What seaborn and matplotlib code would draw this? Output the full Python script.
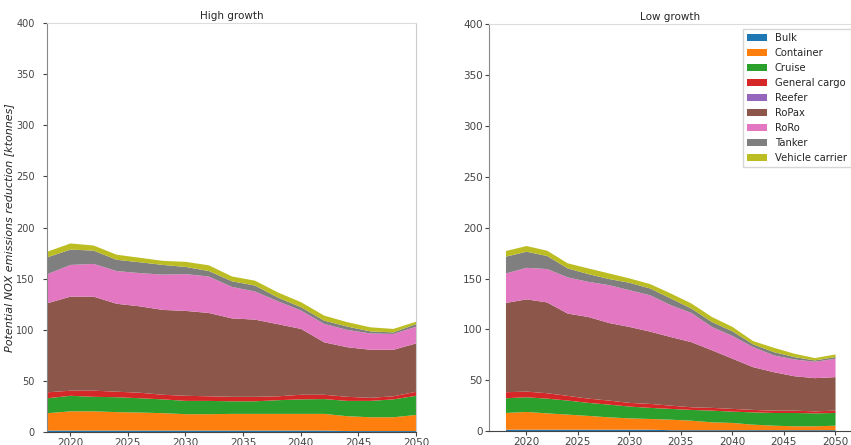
import matplotlib
matplotlib.use("Agg")
import matplotlib.pyplot as plt
import seaborn as sns
import pandas as pd

# years on the x axis (values read every 2 years)
years = list(range(2018, 2051, 2))
ship_types = ['Bulk', 'Container', 'Cruise', 'General cargo', 'Reefer',
              'RoPax', 'RoRo', 'Tanker', 'Vehicle carrier']

# High growth scenario, ktonnes per ship type
high_bulk = [2, 2, 2, 2, 2, 2, 2, 2, 2, 2, 2, 2, 2, 1.5, 1.5, 1.5, 1.5]
high_container = [17, 18.8, 18.8, 18, 17.6, 17, 16, 16, 16.3, 16.3, 16.3, 16.3, 16.3, 14.5, 13.5, 13.5, 15.8]
high_cruise = [14.6, 15.2, 14.2, 14.6, 14, 13.5, 13, 13, 12.3, 12.3, 13.4, 14.2, 14.5, 15, 16, 17.5, 18.7]
high_gencargo = [5.8, 5, 6, 5.4, 5.4, 4.5, 5, 4.5, 4.4, 4.4, 3.8, 4.5, 4.2, 4, 3, 3, 4]
high_reefer = [0] * 17
high_ropax = [87.1, 92, 92, 86, 84.5, 83, 83, 81.5, 76.7, 75.5, 70.5, 64.4, 51.3, 48.5, 47, 45.5, 47.3]
high_roro = [28.5, 31, 32, 32, 32.5, 34.5, 36, 35.6, 30.8, 27.5, 22.4, 17.9, 18, 16.9, 16, 15.5, 16.4]
high_tanker = [16.5, 15, 13, 11, 10.6, 9.5, 7, 5.4, 5.5, 5.8, 3.6, 3.3, 3.2, 3.3, 2, 1.5, 2.6]
high_vehicle = [5.5, 6, 5, 5, 4.4, 4, 5, 5.6, 4.7, 4.8, 5, 4.9, 4.9, 4.3, 4, 3.4, 2.3]

# Low growth scenario
low_bulk = [2, 2, 2, 2, 2, 2, 2, 2, 1.5, 1.5, 1.5, 1.5, 1.5, 1.5, 1.5, 1.5, 1.5]
low_container = [16.4, 17.4, 16, 14.8, 13.5, 12.1, 11.1, 10.5, 10.3, 9.3, 7.7, 7.1, 5.4, 4.4, 3.8, 3.8, 4.4]
low_cruise = [14.5, 14.4, 14.5, 13.8, 12.8, 12.5, 11.6, 10.9, 10.6, 10.6, 11.5, 11.1, 12.1, 12.5, 13.1, 12.7, 12.5]
low_gencargo = [5.9, 5.6, 5.3, 4.6, 4.2, 4, 3.6, 3.9, 3.2, 2.6, 2.7, 2.7, 2.4, 2.3, 2.3, 2, 2.3]
low_reefer = [0] * 17
low_ropax = [87.7, 90.6, 89.2, 80.8, 80.2, 76.2, 74.6, 71, 67.4, 64, 56.6, 49.3, 42, 37.8, 33.8, 32.6, 32.9]
low_roro = [29, 31, 32.8, 35.6, 34.5, 37.2, 36.1, 35.7, 31.3, 28.7, 22.9, 22.3, 19.7, 16.5, 16.5, 16.1, 18.1]
low_tanker = [16.5, 15.8, 12.8, 8.8, 7.6, 6, 7.3, 6.7, 6.6, 4.3, 4.9, 4.6, 2.7, 3.2, 2.3, 1.3, 1.6]
low_vehicle = [5.5, 5.6, 5.2, 5, 5.6, 5.5, 4.3, 4.3, 4.9, 5, 4.9, 4.3, 3.2, 4.3, 3.3, 2.3, 2.6]

high_df = pd.DataFrame(dict(zip(ship_types, [high_bulk, high_container, high_cruise, high_gencargo,
                                             high_reefer, high_ropax, high_roro, high_tanker,
                                             high_vehicle])), index=years)
low_df = pd.DataFrame(dict(zip(ship_types, [low_bulk, low_container, low_cruise, low_gencargo,
                                            low_reefer, low_ropax, low_roro, low_tanker,
                                            low_vehicle])), index=years)

sns.set_style("ticks")
plt.rcParams['font.family'] = ['DejaVu Sans']
colors = sns.color_palette("tab10", 9)

fig = plt.figure(figsize=(8.51, 4.45), dpi=100)
ax1 = fig.add_axes([0.0552, 0.029, 0.4336, 0.919])
ax2 = fig.add_axes([0.5746, 0.031, 0.426, 0.915])

for ax, df, title in [(ax1, high_df, 'High growth'), (ax2, low_df, 'Low growth')]:
    ax.stackplot(df.index, [df[c] for c in ship_types], labels=ship_types, colors=colors,
                 linewidth=0)
    ax.set_ylim(0, 400)
    ax.set_yticks(range(0, 401, 50))
    ax.set_xticks(range(2020, 2051, 5))
    ax.set_title(title, fontsize=7.5, pad=3)
    ax.tick_params(labelsize=7.5, length=3, width=0.8, colors='#444444', pad=1.5)
    ax.spines['top'].set_color('#dddddd')
    ax.spines['left'].set_color('#888888')
    ax.spines['bottom'].set_color('#444444')

ax1.set_xlim(2018, 2050)
ax1.spines['right'].set_color('#cccccc')
ax1.tick_params(axis='y', pad=6, labelsize=7)
ax2.spines['right'].set_visible(False)

ax1.set_ylabel('Potential NOX emissions reduction [ktonnes]', fontsize=8, style='italic')
ax1.yaxis.set_label_coords(-0.088, 0.5)

ax2.legend(loc='upper right', bbox_to_anchor=(1.012, 1.0), fontsize=7.2,
           frameon=True, fancybox=False, edgecolor='#cccccc')

fig.savefig('out.png', dpi=100)
